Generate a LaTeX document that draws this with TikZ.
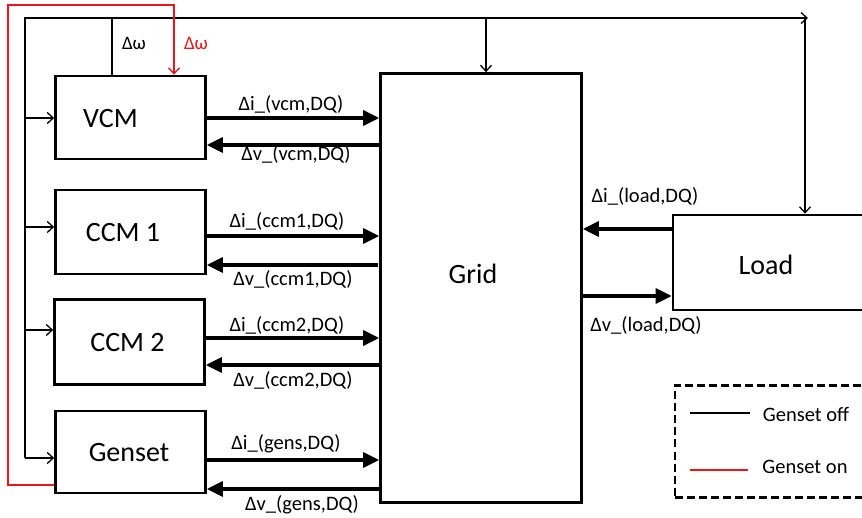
\documentclass[tikz,border=0pt]{standalone}
\usepackage{fontspec}
\setmainfont{Carlito}
\usetikzlibrary{arrows.meta,calc}
\begin{document}
\begin{tikzpicture}[x=1pt,y=-1pt,
  blk/.style={draw, line width=2.6pt, rectangle, inner sep=0pt},
  boxtext/.style={font=\fontsize{28}{30}\selectfont, inner sep=0pt},
  lbl/.style={font=\fontsize{20.5}{22}\selectfont, inner sep=0pt},
  bigarr/.style={line width=3.2pt, -{Triangle[length=16pt,width=15pt]}},
  thinln/.style={line width=1.3pt},
  thinarr/.style={line width=1.3pt, -{Straight Barb[length=6pt,width=11pt]}},
  redln/.style={line width=1.3pt, draw={rgb,255:red,240;green,20;blue,20}},
]
\clip (0,0) rectangle (862,518);
\fill[white] (0,0) rectangle (862,518);

% boxes
\node[blk, minimum width=150pt, minimum height=83pt] (vcm)  at (130.5,117.5) {};
\node[blk, minimum width=150pt, minimum height=84pt] (ccm1) at (130.5,232) {};
\node[blk, minimum width=150pt, minimum height=85pt] (ccm2) at (129.5,342) {};
\node[blk, minimum width=150pt, minimum height=82pt] (gens) at (130.5,452) {};
\node[blk, minimum width=201pt, minimum height=429pt] (grid) at (481,288) {};
\node[blk, minimum width=195pt, minimum height=95pt] (load) at (770.5,262.5) {};
\node[draw, line width=2.4pt, dash pattern=on 8pt off 4pt, rectangle, minimum width=193pt, minimum height=112pt] (leg) at (771.5,441.5) {};

% box texts
\node[boxtext] (tvcm)  at (110.5,119) {VCM};
\node[boxtext] (tccm1) at (123,233) {CCM 1};
\node[boxtext] (tccm2) at (127.5,343) {CCM 2};
\node[boxtext] (tgens) at (129,453) {Genset};
\node[boxtext] (tgrid) at (473,274) {Grid};
\node[boxtext] (tload) at (766,265) {Load};

% signal arrows to/from grid
\coordinate (i1) at (vcm.east |- 0,118);
\coordinate (v1) at (vcm.east |- 0,145);
\coordinate (i2) at (ccm1.east |- 0,236);
\coordinate (v2) at (ccm1.east |- 0,265);
\coordinate (i3) at (ccm2.east |- 0,338);
\coordinate (v3) at (ccm2.east |- 0,365);
\coordinate (i4) at (gens.east |- 0,460);
\coordinate (v4) at (gens.east |- 0,489);
\draw[bigarr] (i1) -- (i1 -| grid.west);
\draw[bigarr] ([xshift=2pt]v1 -| grid.west) -- (v1);
\draw[bigarr] (i2) -- (i2 -| grid.west);
\draw[bigarr] ([xshift=-1pt]v2 -| grid.west) -- (v2);
\draw[bigarr] (i3) -- (i3 -| grid.west);
\draw[bigarr] ([xshift=2pt]v3 -| grid.west) -- (v3);
\draw[bigarr] (i4) -- (i4 -| grid.west);
\draw[bigarr] ([xshift=2pt]v4 -| grid.west) -- (v4);

\coordinate (il) at (load.west |- 0,229);
\coordinate (vl) at (grid.east |- 0,296);
\draw[bigarr] (il) -- (il -| grid.east);
\draw[bigarr] (vl) -- (vl -| load.west);

% labels
\node[lbl] (li1) at (291,104) {Δi\_(vcm,DQ)};
\node[lbl] (lv1) at (296,154) {Δv\_(vcm,DQ)};
\node[lbl] (li2) at (287,221) {Δi\_(ccm1,DQ)};
\node[lbl] (lv2) at (293,279) {Δv\_(ccm1,DQ)};
\node[lbl] (li3) at (287,325) {Δi\_(ccm2,DQ)};
\node[lbl] (lv3) at (293,380) {Δv\_(ccm2,DQ)};
\node[lbl] (li4) at (286,444) {Δi\_(gens,DQ)};
\node[lbl] (lv4) at (302,505) {Δv\_(gens,DQ)};
\node[lbl] (lil) at (645,196) {Δi\_(load,DQ)};
\node[lbl] (lvl) at (646,325) {Δv\_(load,DQ)};

% black feedback loop (genset off)
\coordinate (tl) at (25,18);
\coordinate (tr) at (808,18);
\coordinate (b1) at (25,118);
\coordinate (b2) at (25,227);
\coordinate (b3) at (25,330);
\coordinate (b4) at (25,458);
\draw[thinarr] (b4) -- (tl) -- (tr);
\draw[thinarr] (b1) -- (b1 -| vcm.west);
\draw[thinarr] (b2) -- (b2 -| ccm1.west);
\draw[thinarr] (b3) -- (b3 -| ccm2.west);
\draw[thinarr] (b4) -- (b4 -| gens.west);
\coordinate (gd) at (486,18);
\draw[thinarr] (gd) -- (gd |- grid.north);
\coordinate (rd) at (805,18);
\draw[thinarr] (rd) -- (rd |- load.north);
\coordinate (wb) at (112,18);
\draw[thinln] (vcm.north -| wb) -- (wb);
\node[lbl, font=\fontsize{19}{20}\selectfont] (lwb) at (134,43) {Δω};

% red feedback loop (genset on)
\coordinate (rg) at (gens.west |- 0,485);
\coordinate (rtl) at (8,5);
\coordinate (rtr) at (174,5);
\draw[redln, -{Straight Barb[length=6pt,width=11pt]}] (rg) -- (rg -| rtl) -- (rtl) -- (rtr) -- (rtr |- vcm.north);
\node[lbl, font=\fontsize{19}{20}\selectfont, text={rgb,255:red,240;green,20;blue,20}] (lwr) at (196,43) {Δω};

% legend
\coordinate (la1) at (690,413);
\coordinate (la2) at (750,413);
\coordinate (lb1) at (690,470);
\coordinate (lb2) at (748,470);
\draw[line width=1.1pt] (la1) -- (la2);
\draw[redln, line width=1.1pt] (lb1) -- (lb2);
\node[lbl] (loff) at (806,414) {Genset off};
\node[lbl] (lon)  at (805,467) {Genset on};
\end{tikzpicture}
\end{document}
